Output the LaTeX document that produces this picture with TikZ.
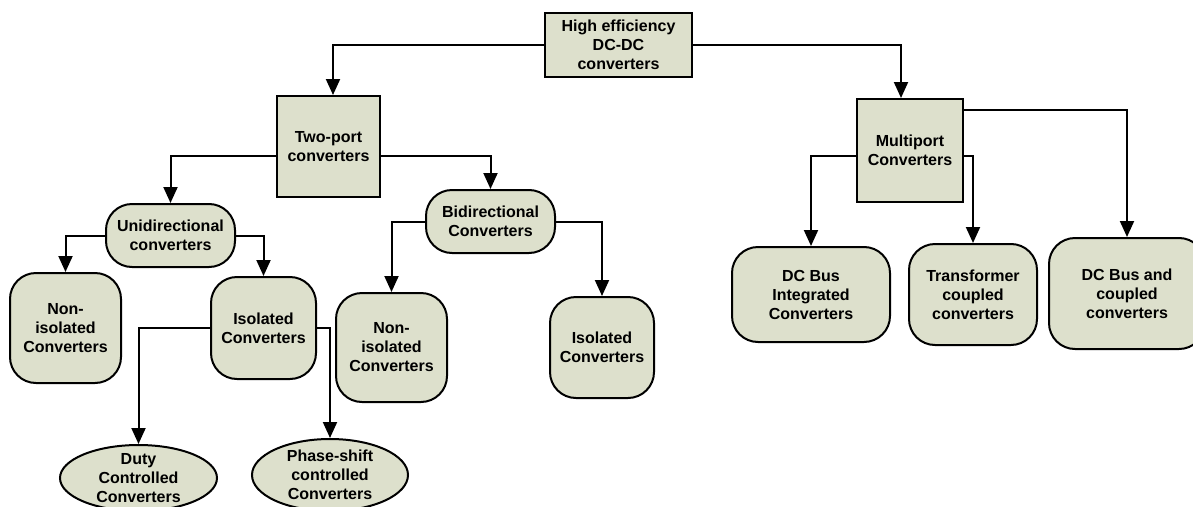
\documentclass[tikz,border=0pt]{standalone}
\usepackage{fontspec}
\setmainfont{Liberation Sans}
\usetikzlibrary{arrows.meta,shapes.geometric}
\definecolor{boxfill}{RGB}{221,224,204}
\tikzset{
  base/.style={draw=black, line width=2pt, fill=boxfill, inner sep=0pt,
    font=\bfseries\fontsize{16}{19}\selectfont, align=center},
  sqbox/.style={base, rectangle},
  rbox/.style={base, rectangle, rounded corners=26pt},
  oval/.style={base, ellipse},
  lbl/.style={inner sep=0pt, font=\bfseries\fontsize{16}{19}\selectfont, align=center},
  link/.style={line width=2pt, -{Triangle[length=16pt,width=14pt]}},
}
\begin{document}
\begin{tikzpicture}[x=1pt, y=-1pt]
\useasboundingbox (0,0) rectangle (1193,506);
\clip (0,0) rectangle (1193,506);

% level 0
\node[sqbox, minimum width=147pt, minimum height=64pt] (top) at (618.5,45)
  {High efficiency\\DC-DC\\converters};

% level 1
\node[sqbox, minimum width=103pt, minimum height=101pt] (two) at (328.5,146.5)
  {Two-port\\converters};
\node[sqbox, minimum width=106pt, minimum height=103pt] (multi) at (910,150.5)
  {Multiport\\Converters};

% level 2 (two-port branch)
\node[rbox, minimum width=129pt, minimum height=63pt] (uni) at (170.5,235.5)
  {Unidirectional\\converters};
\node[rbox, minimum width=129pt, minimum height=63pt] (bi) at (490.5,221.5)
  {Bidirectional\\Converters};

% level 3
\node[rbox, minimum width=111pt, minimum height=110pt] (non1) at (65.5,328)
  {Non-\\isolated\\Converters};
\node[rbox, minimum width=105pt, minimum height=102pt] (iso1) at (263.5,328)
  {Isolated\\Converters};
\node[rbox, minimum width=111pt, minimum height=109pt] (non2) at (391.5,347.5)
  {Non-\\isolated\\Converters};
\node[rbox, minimum width=104pt, minimum height=101pt] (iso2) at (602,347.5)
  {Isolated\\Converters};

% multiport children
\node[rbox, minimum width=158pt, minimum height=95pt] (dcbi) at (811,294.5)
  {DC Bus\\Integrated\\Converters};
\node[rbox, minimum width=128pt, minimum height=101pt] (trans) at (973,294.5)
  {Transformer\\coupled\\converters};
\node[rbox, minimum width=156pt, minimum height=111pt] (dcbc) at (1127,293.5)
  {DC Bus and\\coupled\\converters};

% control schemes of the isolated converters
\node[oval, minimum width=157pt, minimum height=66pt] (duty) at (138.5,478) {};
\node[lbl] (dutyt) at (duty.center) {Duty\\Controlled\\Converters};
\node[oval, minimum width=156pt, minimum height=72pt] (phase) at (330,475) {};
\node[lbl] (phaset) at (phase.center) {Phase-shift\\controlled\\Converters};

% connectors
\draw[link] (top.west) -| ([xshift=4.5pt]two.north);
\draw[link] (top.east) -| ([xshift=-9pt]multi.north);

\draw[link] ([yshift=-9.5pt]two.west) -| (uni.north);
\draw[link] ([yshift=-9.5pt]two.east) -| (bi.north);

\draw[link] (uni.west) -| (non1.north);
\draw[link] (uni.east) -| (iso1.north);
\draw[link] (bi.west) -| (non2.north);
\draw[link] (bi.east) -| (iso2.north);

\draw[link] (iso1.west) -| (duty.north);
\draw[link] (iso1.east) -| (phase.north);

\draw[link] ([yshift=-5.5pt]multi.west) -| (dcbi.north);
\draw[link] ([yshift=-5.5pt]multi.east) -| (trans.north);
\draw[link] ([yshift=40.5pt]multi.east) -| (dcbc.north);
\end{tikzpicture}
\end{document}
